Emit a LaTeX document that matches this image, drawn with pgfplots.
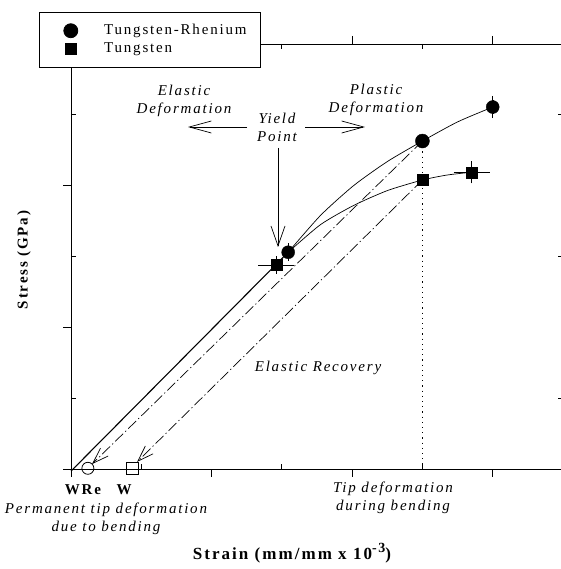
\documentclass[border=0pt]{standalone}
\usepackage{fontspec}
\setmainfont[LetterSpace=12]{Liberation Serif}
\usepackage{pgfplots}
\pgfplotsset{compat=1.18}
\usetikzlibrary{arrows.meta}

\begin{document}
\fontsize{15}{18}\selectfont
\begin{tikzpicture}[x=1pt,y=1pt]
\begin{axis}[
  at={(71pt,100pt)}, anchor=south west,
  scale only axis, width=492pt, height=425pt,
  xmin=0, xmax=7, ymin=0, ymax=6,
  xtick={0,2,4,6}, ytick={0,2,4,6},
  xticklabels={}, yticklabels={},
  tick align=outside, major tick length=8pt,
  extra x ticks={1,3,5}, extra y ticks={1,3,5},
  extra x tick labels={}, extra y tick labels={},
  extra tick style={tick align=inside, major tick length=5pt},
  axis line style={line width=0.8pt},
  every tick/.style={black, line width=0.8pt},
  clip=false,
  legend image code/.code={\path (0pt,0pt) (60pt,0pt); \draw[#1] plot coordinates {(31pt,0pt)};},
  legend style={at={(axis description cs:0,1)}, anchor=north west,
    xshift=-32pt, yshift=32pt, draw=black, fill=white, line width=0.8pt,
    inner xsep=0pt, inner ysep=10pt, row sep=2pt, column sep=0pt,
    font=\fontsize{15}{18}\selectfont, cells={anchor=west},
    nodes={inner xsep=4pt, text width=152pt}},
]
% Tungsten-Rhenium points
\addplot[only marks, mark=*, mark size=7pt, black]
  coordinates {(5.0,4.63)};
\addlegendentry{Tungsten-Rhenium}
% Tungsten points
\addplot[only marks, mark=square*, mark size=5.5pt, black]
  coordinates {(5.0,4.08)};
\addlegendentry{Tungsten}

% elastic line
\addplot[black, line width=1.1pt, forget plot] coordinates {(0,-0.03) (3.09,3.06)};
% plastic curves
\addplot[black, line width=0.7pt, smooth, tension=0.4, forget plot] coordinates
  {(3.09,3.06) (3.55,3.58) (4.02,4.00) (4.50,4.34) (5.0,4.63) (5.5,4.90) (6.0,5.11)};
\addplot[black, line width=0.7pt, smooth, tension=0.4, forget plot] coordinates
  {(3.09,3.06) (3.55,3.45) (4.02,3.72) (4.50,3.93) (5.0,4.08) (5.35,4.15) (5.70,4.19)};
% dotted vertical
\addplot[black, line width=0.9pt, dash pattern=on 1.2pt off 4pt, forget plot] coordinates {(5.0,4.63) (5.0,0)};
% elastic recovery lines
\addplot[black, line width=0.7pt, dash pattern=on 11pt off 3pt on 1.2pt off 3pt,
  -{Straight Barb[length=16pt,width=11pt]}, forget plot] coordinates {(5.0,4.63) (0.30,0.07)};
\addplot[black, line width=0.7pt, dash pattern=on 11pt off 3pt on 1.2pt off 3pt,
  -{Straight Barb[length=16pt,width=11pt]}, forget plot] coordinates {(5.0,4.08) (0.94,0.10)};

% remaining markers with error bars
\addplot[only marks, mark=*, mark size=6.5pt, black, forget plot,
  error bars/.cd, y dir=both, y explicit, error mark options={mark size=4pt, line width=0.8pt}]
  coordinates {(3.09,3.06) +- (0,0.07) (6.0,5.11) +- (0,0.1)};
\addplot[only marks, mark=square*, mark size=5.5pt, black, forget plot,
  error bars/.cd, x dir=both, x explicit, y dir=both, y explicit,
  error mark options={mark size=4pt, line width=0.8pt}]
  coordinates {(2.92,2.88) +- (0.2,0.07) (5.70,4.19) +- (0.2,0.1)};

% permanent deformation markers
\addplot[only marks, mark=o, mark size=6pt, black, line width=0.8pt, forget plot] coordinates {(0.24,0.01)};
\addplot[only marks, mark=square, mark size=6pt, black, line width=0.8pt, forget plot] coordinates {(0.88,0.01)};
\end{axis}

% annotations (picture coordinates: x = px, y = 569 - py)
\node[font=\itshape, align=center] at (184,468) {Elastic\\Deformation};
\node[font=\itshape, align=center] at (277,442) {Yield\\Point};
\node[font=\itshape, align=center] at (376,469) {Plastic\\Deformation};
\draw[line width=0.7pt, -{Straight Barb[length=22pt,width=12pt]}] (247,442) -- (188,442);
\draw[line width=0.7pt, -{Straight Barb[length=22pt,width=12pt]}] (305,442) -- (365,442);
\draw[line width=0.7pt, -{Straight Barb[length=20pt,width=14pt]}] (278,421) -- (278,322);
\node[font=\itshape] at (318,201) {Elastic Recovery};
\node[font=\bfseries] at (83,79) {WRe};
\node[font=\bfseries] at (124,79) {W};
\node[font=\itshape, align=center] at (106,50) {Permanent tip deformation\\due to bending};
\node[font=\itshape, align=center] at (393,71) {Tip deformation\\during bending};
\node[font=\bfseries\fontsize{17}{20}\selectfont] at (292,16) {Strain (mm/mm x 10\raisebox{0.45em}{\fontsize{14}{14}\selectfont -3})};
\node[font=\bfseries, rotate=90] at (24,309) {Stress (GPa)};

\pgfresetboundingbox
\useasboundingbox (0,0) rectangle (560,569);
\end{tikzpicture}
\end{document}
